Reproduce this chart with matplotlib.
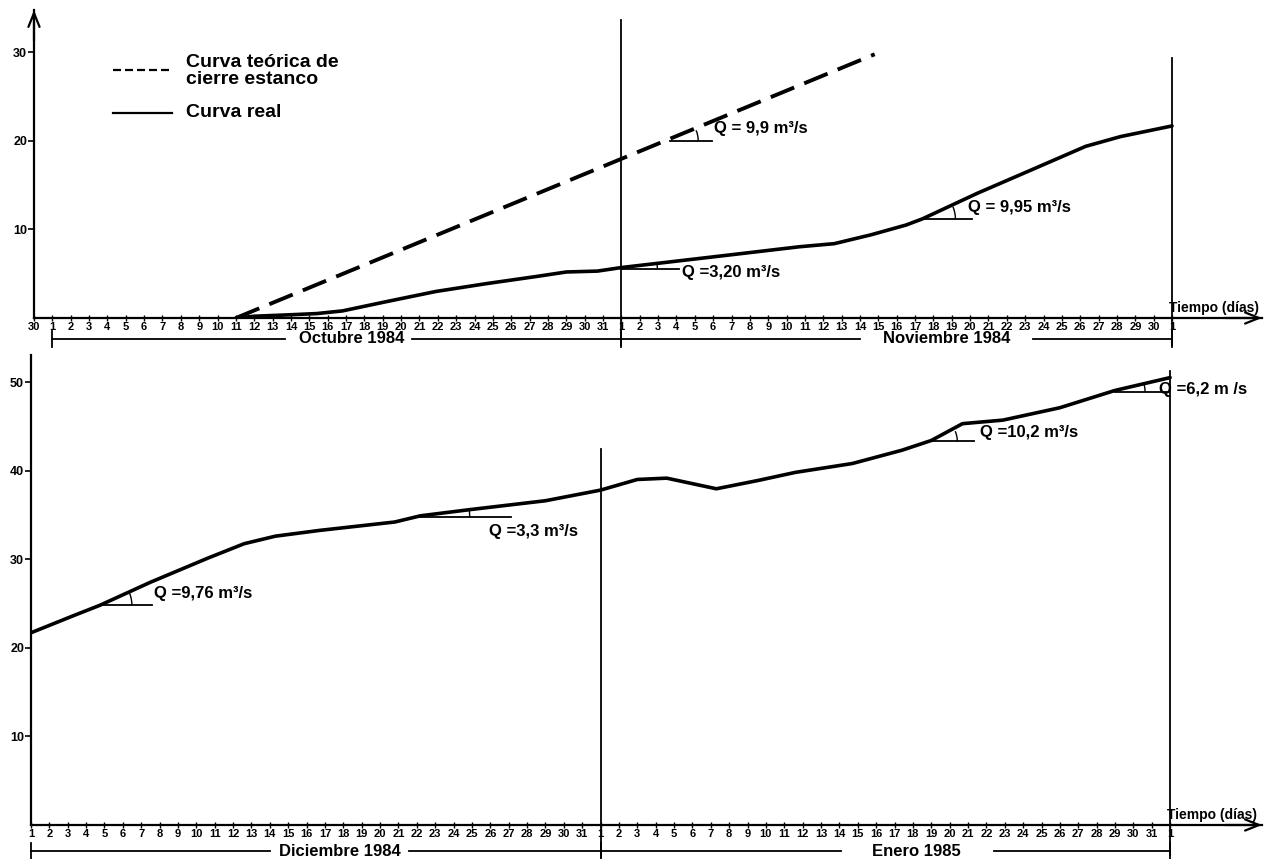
import numpy as np
import matplotlib
matplotlib.use("Agg")
import matplotlib.pyplot as plt
import matplotlib.transforms as mtransforms
from matplotlib.patches import Arc
from matplotlib.lines import Line2D

plt.rcParams['font.family'] = ['Liberation Sans', 'DejaVu Sans']
plt.rcParams['font.weight'] = 'bold'

# day index, panel 1: 0 = 30 Sep, 1 = 1 Oct, 32 = 1 Nov, 62 = 1 Dec 1984
ticks_oct_nov = ["30"] + [str(d) for d in range(1, 32)] + [str(d) for d in range(1, 31)] + ["1"]
# day index, panel 2: 0 = 1 Dec, 31 = 1 Jan, 62 = 1 Feb
ticks_dic_ene = [str(d) for d in range(1, 32)] + [str(d) for d in range(1, 32)] + ["1"]

# volumes in hm3
teorica_dias = [11, 45.8]
teorica_vol = [0, 29.8]

real1_dias = [11, 12, 13.8, 15.4, 16.8, 19.2, 21.9, 24.7, 27.4, 29.0, 30.7, 32,
              37.8, 41.7, 43.6, 45.6, 47.5, 48.4, 51.4, 54.3, 57.3, 59.2, 62]
real1_vol = [0, 0.2, 0.35, 0.5, 0.8, 1.85, 3.0, 3.9, 4.7, 5.2, 5.3, 5.7,
             7.1, 8.05, 8.4, 9.4, 10.5, 11.2, 14.1, 16.7, 19.4, 20.5, 21.7]

real2_dias = [0, 2.4, 3.75, 6.5, 9.6, 11.6, 13.3, 15.7, 19.8, 21.2, 23.9, 28.0, 30.0,
              31.0, 33.0, 34.6, 37.3, 39.6, 41.6, 44.7, 47.4, 49.0, 50.7, 52.9, 56.0, 59.0, 62]
real2_vol = [21.7, 23.7, 24.8, 27.4, 30.1, 31.75, 32.6, 33.25, 34.2, 34.9, 35.6, 36.6, 37.4,
             37.8, 39.0, 39.15, 37.95, 38.9, 39.8, 40.8, 42.3, 43.4, 45.3, 45.7, 47.1, 49.05, 50.5]

# flow labels: vertex of the slope triangle and Q in m3/s
q1_dias = [34.66, 32.0, 48.4]
q1_vol = [20.0, 5.5, 11.15]
q1_caudal = [9.9, 3.20, 9.95]
q1_texto = ["Q = 9,9 m³/s", "Q =3,20 m³/s", "Q = 9,95 m³/s"]

q2_dias = [3.75, 21.1, 49.0, 59.0]
q2_vol = [24.8, 34.8, 43.3, 48.9]
q2_caudal = [9.76, 3.3, 10.2, 6.2]
q2_texto = ["Q =9,76 m³/s", "Q =3,3 m³/s", "Q =10,2 m³/s", "Q =6,2 m /s"]

meses1 = ["Octubre 1984", "Noviembre 1984"]
meses2 = ["Diciembre 1984", "Enero 1985"]

W, H = 1279, 859
fig = plt.figure(figsize=(W / 100, H / 100), dpi=100, facecolor='white')


def axes_px(left, top, right, bottom):
    return fig.add_axes([left / W, 1 - bottom / H, (right - left) / W, (bottom - top) / H])


ax1 = axes_px(34, 10, 1262, 318)
ax1.set_xlim(0, 66.9)
ax1.set_ylim(0, 34.8)
ax2 = axes_px(31, 355, 1262, 825)
ax2.set_xlim(0, 67.0)
ax2.set_ylim(0, 53.05)


def px_per_unit(ax):
    p0 = ax.transData.transform((0, 0))
    p1 = ax.transData.transform((1, 1))
    return p1 - p0


def base_axes(ax, yticks, xlabels, arrow_y):
    for s in ['top', 'right']:
        ax.spines[s].set_visible(False)
    for s in ['left', 'bottom']:
        ax.spines[s].set_linewidth(1.6)
    ax.set_xticks(range(len(xlabels)))
    ax.set_xticklabels(xlabels, fontsize=8, fontweight='bold')
    ax.tick_params(axis='x', direction='inout', length=4, width=1, pad=1)
    ax.set_yticks(yticks)
    ax.set_yticklabels([str(v) for v in yticks], fontsize=9, fontweight='bold')
    ax.tick_params(axis='y', direction='out', length=4, width=1.2, pad=1)
    ax.patch.set_alpha(0)
    arrow = dict(arrowstyle="->,head_length=1.0,head_width=0.4", lw=1.6, color='k',
                 shrinkA=0, shrinkB=0)
    ax.annotate("", xy=(1.0, 0), xycoords='axes fraction', xytext=(0.97, 0), arrowprops=arrow)
    if arrow_y:
        ax.annotate("", xy=(0, 1.0), xycoords='axes fraction', xytext=(0, 0.9), arrowprops=arrow)
    ax.text(62, 0, "Tiempo (días)", fontsize=10, ha='left', va='bottom',
            transform=ax.get_xaxis_transform() + mtransforms.ScaledTranslation(-0.03, 0.03, fig.dpi_scale_trans))


def separador(ax, dia, vol_top, px_below):
    sy = px_per_unit(ax)[1]
    ax.plot([dia, dia], [vol_top, -px_below / sy], color='k', lw=1.3, clip_on=False)


def meses(ax, inicio, medio, fin, nombres, centros, huecos, px_below):
    sy = px_per_unit(ax)[1]
    y = -px_below / sy
    t = 8 / sy
    kw = dict(color='k', lw=1.3, clip_on=False)
    for d in [inicio, medio, fin]:
        ax.plot([d, d], [y - t, y + t], **kw)
    limites = [inicio, medio, fin]
    for i, (nombre, c, (g0, g1)) in enumerate(zip(nombres, centros, huecos)):
        ax.plot([limites[i], g0], [y, y], **kw)
        ax.plot([g1, limites[i + 1]], [y, y], **kw)
        ax.text(c, y, nombre, fontsize=12, ha='center', va='center', clip_on=False)


def pendiente(ax, dia, vol, q, texto, largo, radio, dx, dy):
    sx, sy = px_per_unit(ax)
    # Q in m3/s -> hm3 per day
    ang = np.degrees(np.arctan(q * 0.0864 * sy / sx))
    tr = mtransforms.ScaledTranslation(dia, vol, ax.transData)
    ax.add_line(Line2D([0, largo], [0, 0], transform=tr, color='k', lw=1.3, clip_on=False))
    ax.add_patch(Arc((0, 0), 2 * radio, 2 * radio, theta1=0, theta2=ang, transform=tr,
                     color='k', lw=1.0, clip_on=False))
    ax.annotate(texto, xy=(dia, vol), xytext=(dx, dy), textcoords='offset pixels',
                ha='left', va='center', fontsize=12)


base_axes(ax1, [10, 20, 30], ticks_oct_nov, True)
base_axes(ax2, [10, 20, 30, 40, 50], ticks_dic_ene, False)

# upper panel: October - November 1984
ax1.plot(teorica_dias, teorica_vol, color='k', lw=2.8, dashes=(6.5, 2.8), solid_capstyle='butt')
ax1.plot(real1_dias, real1_vol, color='k', lw=2.6, solid_joinstyle='round', solid_capstyle='round')
separador(ax1, 32, 33.7, 27)
separador(ax1, 62, 29.4, 27)
meses(ax1, 1, 32, 62, meses1, [17.3, 49.7], [(13.7, 20.6), (45.0, 54.4)], 21)

q1_px = [(42, 28, 44, 12), (58, 36, 61, -3), (50, 33, 46, 12)]
for d, v, q, txt, (lg, r, dx, dy) in zip(q1_dias, q1_vol, q1_caudal, q1_texto, q1_px):
    pendiente(ax1, d, v, q, txt, lg, r, dx, dy)

# legend
ax1.plot([0.064, 0.112], [0.805, 0.805], transform=ax1.transAxes, color='k', lw=1.6, dashes=(3.6, 1.8))
ax1.plot([0.064, 0.112], [0.666, 0.666], transform=ax1.transAxes, color='k', lw=1.6)
ax1.text(0.124, 0.803, "Curva teórica de\ncierre estanco", transform=ax1.transAxes,
         fontsize=14, ha='left', va='center', linespacing=1.0)
ax1.text(0.124, 0.666, "Curva real", transform=ax1.transAxes, fontsize=14, ha='left', va='center')

# lower panel: December 1984 - January 1985
ax2.plot(real2_dias, real2_vol, color='k', lw=2.6, solid_joinstyle='round', solid_capstyle='round')
separador(ax2, 31, 42.4, 32)
separador(ax2, 62, 51.3, 30)
meses(ax2, 0, 31, 62, meses2, [16.8, 48.2], [(13.0, 20.6), (44.1, 52.4)], 26)

q2_px = [(52, 32, 54, 12), (92, 51, 70, -15), (43, 26, 49, 9), (53, 30, 44, 2)]
for d, v, q, txt, (lg, r, dx, dy) in zip(q2_dias, q2_vol, q2_caudal, q2_texto, q2_px):
    pendiente(ax2, d, v, q, txt, lg, r, dx, dy)

fig.savefig("out.png", dpi=100, facecolor='white')
